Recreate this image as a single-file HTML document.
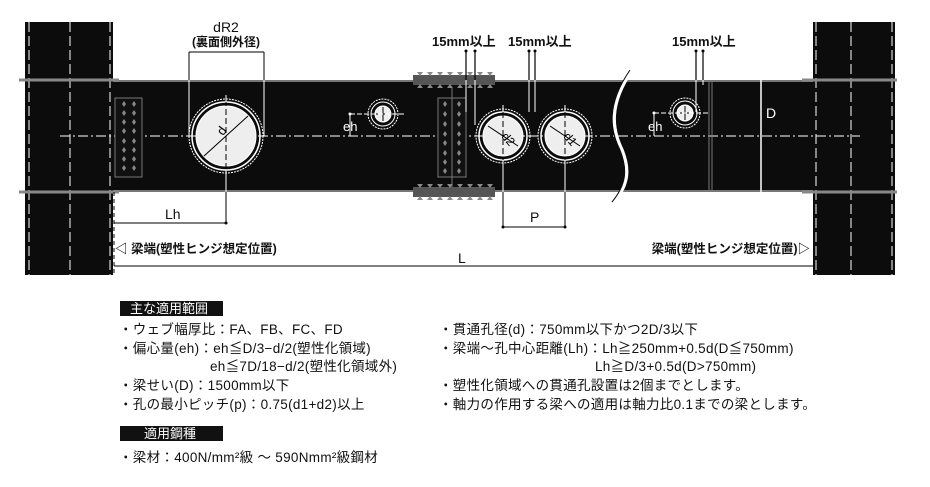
<!DOCTYPE html>
<html><head><meta charset="utf-8"><style>
html,body{margin:0;padding:0;background:#fff;}
body{width:930px;height:487px;position:relative;overflow:hidden;font-family:"Liberation Sans","Noto Sans CJK JP",sans-serif;}
svg{position:absolute;left:0;top:0;}
svg text{font-family:"Liberation Sans","Noto Sans CJK JP",sans-serif;}
.t{position:absolute;font-size:13.5px;color:#111;white-space:nowrap;line-height:14px;letter-spacing:0.3px;}
.h{position:absolute;background:#111;color:#fff;font-size:13px;line-height:15px;height:15px;}
</style></head><body>
<svg width="930" height="487" viewBox="0 0 930 487">
<defs>
<g id="bolt"><path d="M0,-3 L2,0 L0,3 L-2,0Z" fill="#888"/></g>
</defs>
<rect x="113" y="80" width="700" height="112" fill="#0c0c0c"/>
<line x1="113" y1="81" x2="813" y2="81" stroke="#777" stroke-width="2"/>
<line x1="113" y1="191" x2="813" y2="191" stroke="#777" stroke-width="2"/>
<rect x="25" y="22" width="88" height="253" fill="#0c0c0c"/>
<rect x="813" y="22" width="82" height="253" fill="#0c0c0c"/>
<g stroke="#fff" stroke-width="1" stroke-dasharray="10,4">
<line x1="29" y1="22" x2="29" y2="275"/><line x1="70" y1="22" x2="70" y2="275"/><line x1="110" y1="22" x2="110" y2="275"/>
<line x1="816" y1="22" x2="816" y2="275"/><line x1="851" y1="22" x2="851" y2="275"/><line x1="892" y1="22" x2="892" y2="275"/>
</g>
<g stroke="#888" stroke-width="3">
<line x1="19" y1="80" x2="119" y2="80"/><line x1="19" y1="192" x2="119" y2="192"/>
<line x1="802" y1="80" x2="897" y2="80"/><line x1="802" y1="192" x2="897" y2="192"/>
</g>
<line x1="60" y1="136" x2="860" y2="136" stroke="#fff" stroke-width="1" stroke-dasharray="10,3,2,3"/>
<rect x="115" y="98" width="27" height="79" fill="#111" stroke="#777"/>
<g>
<use href="#bolt" x="124" y="104"/><use href="#bolt" x="134" y="104"/>
<use href="#bolt" x="124" y="113"/><use href="#bolt" x="134" y="113"/>
<use href="#bolt" x="124" y="122"/><use href="#bolt" x="134" y="122"/>
<use href="#bolt" x="124" y="131"/><use href="#bolt" x="134" y="131"/>
<use href="#bolt" x="124" y="141"/><use href="#bolt" x="134" y="141"/>
<use href="#bolt" x="124" y="150"/><use href="#bolt" x="134" y="150"/>
<use href="#bolt" x="124" y="159"/><use href="#bolt" x="134" y="159"/>
<use href="#bolt" x="124" y="168"/><use href="#bolt" x="134" y="168"/>
</g>
<rect x="413" y="75" width="82" height="10" fill="#555"/>
<rect x="413" y="187" width="82" height="10" fill="#555"/>
<g fill="#888">
<path d="M417,72 l3,4 l3,-4 M427,72 l3,4 l3,-4 M437,72 l3,4 l3,-4 M447,72 l3,4 l3,-4 M457,72 l3,4 l3,-4 M467,72 l3,4 l3,-4 M477,72 l3,4 l3,-4 M487,72 l3,4 l3,-4"/>
<path d="M417,88 l3,-4 l3,4 M427,88 l3,-4 l3,4 M437,88 l3,-4 l3,4 M447,88 l3,-4 l3,4 M457,88 l3,-4 l3,4 M467,88 l3,-4 l3,4 M477,88 l3,-4 l3,4 M487,88 l3,-4 l3,4"/>
<path d="M417,184 l3,4 l3,-4 M427,184 l3,4 l3,-4 M437,184 l3,4 l3,-4 M447,184 l3,4 l3,-4 M457,184 l3,4 l3,-4 M467,184 l3,4 l3,-4 M477,184 l3,4 l3,-4 M487,184 l3,4 l3,-4"/>
<path d="M417,200 l3,-4 l3,4 M427,200 l3,-4 l3,4 M437,200 l3,-4 l3,4 M447,200 l3,-4 l3,4 M457,200 l3,-4 l3,4 M467,200 l3,-4 l3,4 M477,200 l3,-4 l3,4 M487,200 l3,-4 l3,4"/>
</g>
<rect x="438" y="98" width="28" height="79" fill="#111" stroke="#777"/>
<line x1="452" y1="88" x2="452" y2="187" stroke="#777"/>
<g>
<use href="#bolt" x="445" y="104"/><use href="#bolt" x="459" y="104"/>
<use href="#bolt" x="445" y="114"/><use href="#bolt" x="459" y="114"/>
<use href="#bolt" x="445" y="124"/><use href="#bolt" x="459" y="124"/>
<use href="#bolt" x="445" y="134"/><use href="#bolt" x="459" y="134"/>
<use href="#bolt" x="445" y="143"/><use href="#bolt" x="459" y="143"/>
<use href="#bolt" x="445" y="153"/><use href="#bolt" x="459" y="153"/>
<use href="#bolt" x="445" y="162"/><use href="#bolt" x="459" y="162"/>
<use href="#bolt" x="445" y="171"/><use href="#bolt" x="459" y="171"/>
</g>
<!-- break -->
<path d="M632,70 C608,105 612,130 622,150 C630,170 628,185 614,202" fill="none" stroke="#fff" stroke-width="3.5"/>
<path d="M630,70 C606,105 610,130 620,150 C628,170 626,185 612,202" fill="none" stroke="#0c0c0c" stroke-width="1"/>
<line x1="709" y1="81" x2="709" y2="191" stroke="#777"/><line x1="712" y1="81" x2="712" y2="191" stroke="#777"/>
<line x1="761" y1="78" x2="761" y2="194" stroke="#fff" stroke-width="1.5"/>
<g stroke="#fff" fill="none">
<circle cx="226" cy="136" r="37" stroke-dasharray="2,1"/>
<circle cx="226" cy="136" r="34" stroke-width="1.5"/>
<circle cx="226" cy="136" r="30" fill="#eee" stroke="#fff"/>
<circle cx="383" cy="114" r="15" stroke-dasharray="2,1"/>
<circle cx="383" cy="114" r="12"/>
<circle cx="383" cy="114" r="8" fill="#eee"/>
<circle cx="685" cy="113" r="15" stroke-dasharray="2,1"/>
<circle cx="685" cy="113" r="12"/>
<circle cx="685" cy="113" r="8" fill="#eee"/>
<circle cx="503" cy="136" r="27" stroke-dasharray="2,1"/>
<circle cx="503" cy="136" r="24" stroke-width="1.5"/>
<circle cx="503" cy="136" r="20" fill="#eee"/>
<circle cx="565" cy="136" r="27" stroke-dasharray="2,1"/>
<circle cx="565" cy="136" r="24" stroke-width="1.5"/>
<circle cx="565" cy="136" r="20" fill="#eee"/>
</g>
<g stroke="#000" stroke-width="1">
<line x1="204" y1="156" x2="248" y2="116"/>
<line x1="488" y1="126" x2="518" y2="146"/>
<line x1="550" y1="126" x2="580" y2="146"/>
<line x1="226" y1="100" x2="226" y2="172" stroke-dasharray="6,3"/>
<line x1="503" y1="112" x2="503" y2="160" stroke-dasharray="6,3"/>
<line x1="565" y1="112" x2="565" y2="160" stroke-dasharray="6,3"/>
<line x1="376" y1="114" x2="390" y2="114"/><line x1="383" y1="107" x2="383" y2="121"/>
<line x1="678" y1="113" x2="692" y2="113"/><line x1="685" y1="106" x2="685" y2="120"/>
</g>
<g stroke="#fff" stroke-width="1">
<line x1="226" y1="95" x2="226" y2="102" /><line x1="226" y1="170" x2="226" y2="223"/>
<line x1="503" y1="105" x2="503" y2="112"/><line x1="503" y1="160" x2="503" y2="227"/>
<line x1="565" y1="105" x2="565" y2="112"/><line x1="565" y1="160" x2="565" y2="227"/>
<line x1="350" y1="114" x2="405" y2="114" stroke-dasharray="5,2"/>
<line x1="350" y1="114" x2="350" y2="136"/>
<line x1="654" y1="113" x2="710" y2="113" stroke-dasharray="5,2"/>
<line x1="654" y1="113" x2="654" y2="136"/>
</g>
<text x="220" y="138" font-size="13" fill="#000" transform="rotate(-55 220 134)">d</text>
<text x="504" y="138" font-size="12" fill="#000" transform="rotate(50 504 134)">d2</text>
<text x="566" y="138" font-size="12" fill="#000" transform="rotate(50 566 134)">d1</text>
<circle cx="350" cy="114" r="1.5" fill="#fff"/><circle cx="654" cy="113" r="1.5" fill="#fff"/>
<text x="343" y="131" font-size="13" fill="#fff">eh</text>
<text x="648" y="131" font-size="13" fill="#fff">eh</text>
<text x="766" y="118" font-size="14" fill="#fff">D</text>
<g stroke="#000" stroke-width="1.2">
<line x1="466" y1="51" x2="466" y2="80"/><line x1="475" y1="51" x2="475" y2="80"/>
<line x1="529" y1="51" x2="529" y2="80"/><line x1="535" y1="51" x2="535" y2="80"/>
<line x1="696" y1="51" x2="696" y2="80"/><line x1="703" y1="51" x2="703" y2="80"/>
</g>
<g stroke="#fff" stroke-width="1">
<line x1="466" y1="80" x2="466" y2="112"/><line x1="475" y1="80" x2="475" y2="125"/>
<line x1="529" y1="80" x2="529" y2="112"/><line x1="535" y1="80" x2="535" y2="112"/>
<line x1="696" y1="80" x2="696" y2="112"/><line x1="703" y1="80" x2="703" y2="85"/>
</g>
<g fill="#000"><circle cx="466" cy="51" r="1.5"/><circle cx="475" cy="51" r="1.5"/><circle cx="529" cy="51" r="1.5"/><circle cx="535" cy="51" r="1.5"/><circle cx="696" cy="51" r="1.5"/><circle cx="703" cy="51" r="1.5"/></g>
<g font-size="13" font-weight="bold" fill="#111">
<text x="432" y="46">15mm以上</text><text x="508" y="46">15mm以上</text><text x="672" y="46">15mm以上</text>
<text x="226" y="32" text-anchor="middle" font-weight="normal" font-size="14">dR2</text>
<text x="226" y="46" text-anchor="middle" font-size="12">(裏面側外径)</text>
</g>
<g stroke="#000" stroke-width="1"><line x1="189" y1="52" x2="264" y2="52"/><line x1="189" y1="52" x2="189" y2="80"/><line x1="264" y1="52" x2="264" y2="80"/></g>
<g stroke="#fff" stroke-width="1"><line x1="189" y1="80" x2="189" y2="136"/><line x1="264" y1="80" x2="264" y2="136"/></g>
<g stroke="#000" stroke-width="1">
<line x1="114" y1="223" x2="226" y2="223"/><line x1="226" y1="192" x2="226" y2="223"/>
<line x1="503" y1="192" x2="503" y2="227"/><line x1="565" y1="192" x2="565" y2="227"/>
<line x1="503" y1="227" x2="565" y2="227"/>
<line x1="114" y1="266" x2="813" y2="266"/>
<line x1="114" y1="192" x2="114" y2="275" stroke-dasharray="4,3"/>
</g>
<g fill="#000"><circle cx="226" cy="223" r="1.5"/><circle cx="503" cy="227" r="1.5"/><circle cx="565" cy="227" r="1.5"/></g>
<g font-size="14" fill="#111">
<text x="165" y="219">Lh</text><text x="530" y="222">P</text><text x="458" y="263">L</text>
</g>
<g font-size="12.5" font-weight="bold" fill="#111">
<text x="115" y="253">◁ 梁端(塑性ヒンジ想定位置)</text>
<text x="810" y="253" text-anchor="end">梁端(塑性ヒンジ想定位置)▷</text>
</g>
</svg>
<div class="h" style="left:120px;top:301px;width:103px;padding-left:10px;box-sizing:border-box;">主な適用範囲</div>
<div class="t" style="left:119px;top:323px;">・ウェブ幅厚比：FA、FB、FC、FD</div>
<div class="t" style="left:119px;top:342px;">・偏心量(eh)：eh≦D/3−d/2(塑性化領域)</div>
<div class="t" style="left:210px;top:360px;">eh≦7D/18−d/2(塑性化領域外)</div>
<div class="t" style="left:119px;top:379px;">・梁せい(D)：1500mm以下</div>
<div class="t" style="left:119px;top:398px;">・孔の最小ピッチ(p)：0.75(d1+d2)以上</div>
<div class="h" style="left:120px;top:426px;width:103px;padding-left:24px;box-sizing:border-box;">適用鋼種</div>
<div class="t" style="left:119px;top:451px;">・梁材：400N/mm²級 〜 590Nmm²級鋼材</div>
<div class="t" style="left:439px;top:323px;">・貫通孔径(d)：750mm以下かつ2D/3以下</div>
<div class="t" style="left:439px;top:342px;">・梁端〜孔中心距離(Lh)：Lh≧250mm+0.5d(D≦750mm)</div>
<div class="t" style="left:595px;top:360px;">Lh≧D/3+0.5d(D&gt;750mm)</div>
<div class="t" style="left:439px;top:379px;">・塑性化領域への貫通孔設置は2個までとします。</div>
<div class="t" style="left:439px;top:398px;">・軸力の作用する梁への適用は軸力比0.1までの梁とします。</div>
</body></html>
